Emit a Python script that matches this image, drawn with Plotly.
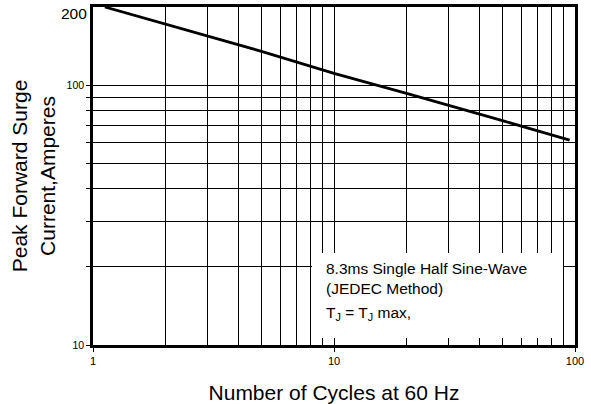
import plotly.graph_objects as go
import math

cycles = [1.12, 2, 5, 10, 20, 50, 95]
current = [200, 172, 135, 111, 93, 73, 61.5]

x_ticks = [1, 10, 100]
x_minor = [2, 3, 4, 5, 6, 7, 8, 9, 20, 30, 40, 50, 60, 70, 80, 90]
y_ticks = [10, 100]
y_minor = [20, 30, 40, 50, 60, 70, 80, 90]

fig = go.Figure()
fig.add_trace(go.Scatter(x=cycles, y=current, mode="lines",
                         line=dict(color="black", width=2.8), showlegend=False))

font = "Liberation Sans, Arial, sans-serif"
fig.update_layout(
    width=591, height=404,
    margin=dict(l=93, r=16, t=7, b=59, autoexpand=False),
    paper_bgcolor="white", plot_bgcolor="white",
    font=dict(family=font, color="black"),
    xaxis=dict(type="log", range=[0, 2], tickvals=x_ticks, ticktext=["1", "10", "100"],
               tickfont=dict(size=11), ticks="outside", ticklen=4, tickcolor="black",
               showgrid=True, gridcolor="black", gridwidth=1,
               minor=dict(tickvals=x_minor, showgrid=True, gridcolor="black", gridwidth=1, ticks=""),
               showline=True, linecolor="black", linewidth=2.5, mirror=True,
               zeroline=False, automargin=False,
               title=dict(text="Number of Cycles at 60 Hz", font=dict(size=21), standoff=21)),
    yaxis=dict(type="log", range=[1, math.log10(200)], tickvals=y_ticks, ticktext=["10", "100"],
               tickfont=dict(size=10.5), ticks="outside", ticklen=4, tickcolor="black",
               showgrid=True, gridcolor="black", gridwidth=1,
               minor=dict(tickvals=y_minor, showgrid=True, gridcolor="black", gridwidth=1,
                          ticks="outside", ticklen=4, tickcolor="black"),
               showline=True, linecolor="black", linewidth=2.5, mirror=True,
               zeroline=False, automargin=False,
               title=dict(text="Peak Forward Surge<br>Current,Amperes", font=dict(size=21), standoff=6)),
)

fig.add_annotation(x=0, y=1, xref="paper", yref="paper", text="200", showarrow=False,
                   xanchor="right", yanchor="middle", xshift=-4, yshift=-6, font=dict(size=15.5))

fig.add_shape(type="rect", xref="paper", yref="paper",
              x0=(312 - 93) / 482, x1=(563 - 93) / 482,
              y0=(345 - 338) / 338, y1=(345 - 253) / 338,
              fillcolor="white", line=dict(width=0), layer="above")

fig.add_annotation(x=(324 - 93) / 482, y=(345 - 258) / 338, xref="paper", yref="paper",
                   xanchor="left", yanchor="top", align="left", showarrow=False,
                   font=dict(size=15.5),
                   text="8.3ms Single Half Sine-Wave<br>(JEDEC Method)")
fig.add_annotation(x=(324 - 93) / 482, y=(345 - 313) / 338, xref="paper", yref="paper",
                   xanchor="left", yanchor="middle", align="left", showarrow=False,
                   font=dict(size=15.5),
                   text="T<sub>J</sub> = T<sub>J</sub> max,")

fig.write_html("out.html", post_script="document.body.style.margin='0';",
               config={"displayModeBar": False})
